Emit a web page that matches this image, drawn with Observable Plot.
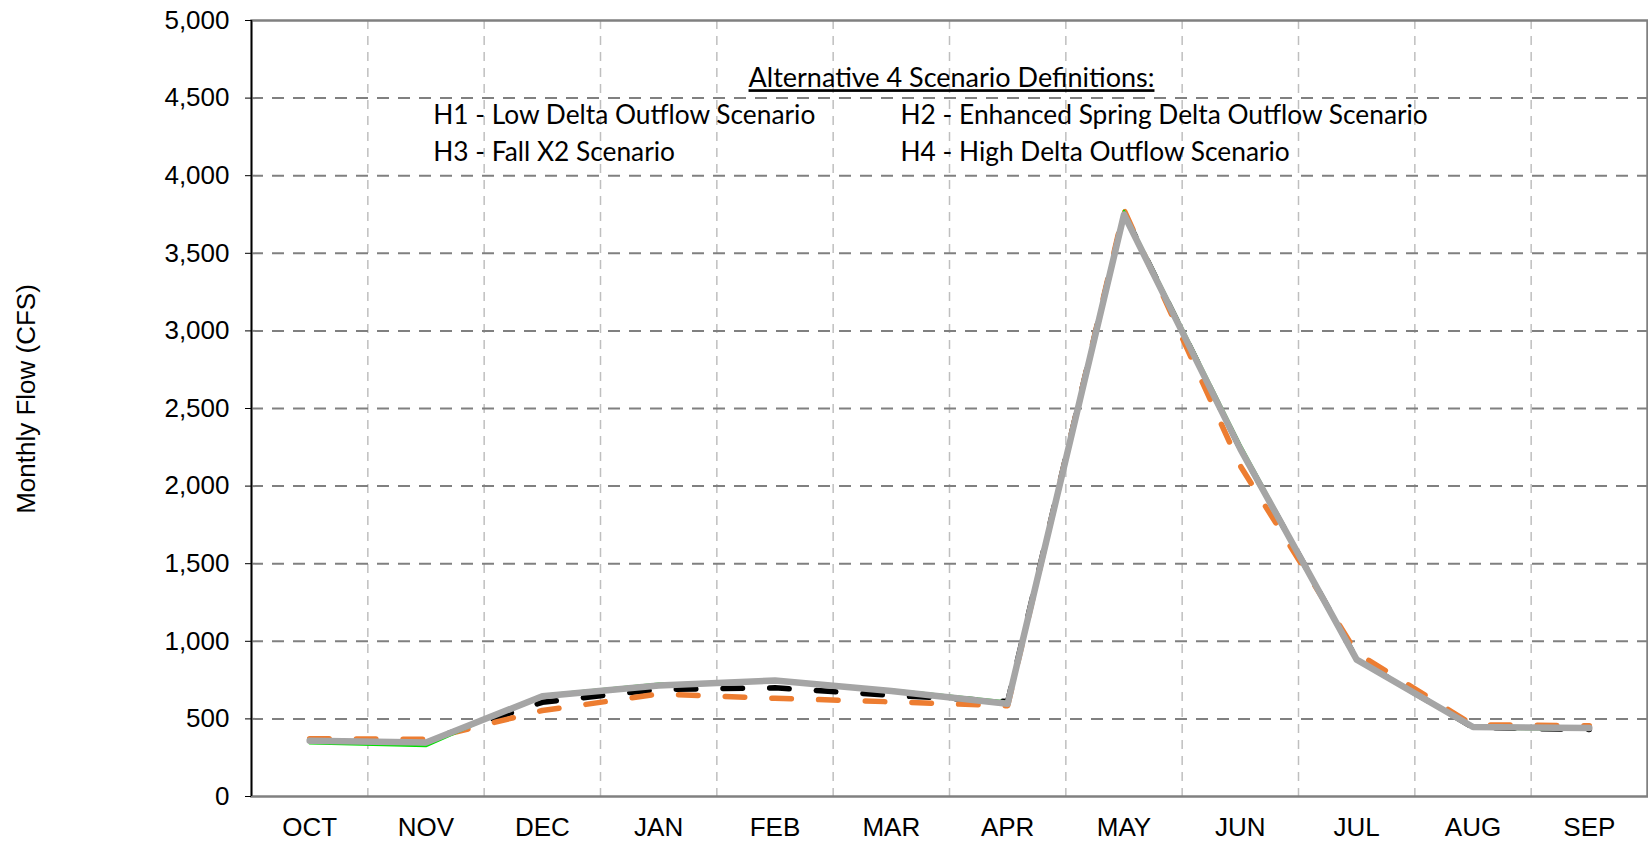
<!DOCTYPE html>
<html>
<head>
<meta charset="utf-8">
<script src="https://cdn.jsdelivr.net/npm/d3@7"></script>
<script src="https://cdn.jsdelivr.net/npm/@observablehq/plot@0.6"></script>
<style>
  html, body { margin: 0; padding: 0; background: #fff; }
  #chart { width: 1648px; height: 843px; overflow: hidden; }
</style>
</head>
<body>
<div id="chart"></div>
<script>
// ---------- data ----------
const months = ["OCT","NOV","DEC","JAN","FEB","MAR","APR","MAY","JUN","JUL","AUG","SEP"];
const seriesNames = ["Black dashed", "Orange dashed", "Green", "Gray"];
const seriesBlack  = [365, 358, 607, 690, 700, 652, 612, 3760, 2240, 885, 445, 432];
const seriesOrange = [372, 368, 554, 660, 633, 610, 585, 3780, 2130, 925, 462, 456];
const seriesGreen  = [342, 324, 655, 728, 738, 690, 612, 3775, 2270, 880, 438, 428];
const seriesGray   = [360, 348, 646, 715, 748, 680, 597, 3750, 2240, 882, 448, 441];
const yTicks = [0, 500, 1000, 1500, 2000, 2500, 3000, 3500, 4000, 4500, 5000];
const yLabel = "Monthly Flow (CFS)";
const legendTitle = "Alternative 4 Scenario Definitions:";
const legendItems = [
  "H1 - Low Delta Outflow Scenario",
  "H2 - Enhanced Spring Delta Outflow Scenario",
  "H3 - Fall X2 Scenario",
  "H4 - High Delta Outflow Scenario"
];

// ---------- build table ----------
const allSeries = [seriesBlack, seriesOrange, seriesGreen, seriesGray];
const rows = [];
allSeries.forEach((vals, s) => {
  vals.forEach((v, i) => rows.push({series: seriesNames[s], month: months[i], x: i + 0.5, value: v}));
});
const bySeries = name => rows.filter(r => r.series === name);

// ---------- layout ----------
const W = 1648, H = 843;
const mL = 251, mR = 1, mT = 20, mB = 47;
const legendFont = "Lato, 'Open Sans', sans-serif";
const legendTitleSize = 27;
const legendSize = 26.3;
const colX = [432.7, 900];
const rowBase = [123.3, 160];

const legendMarks = legendItems.map((t, i) =>
  Plot.text([t], {
    frameAnchor: "top-left",
    dx: colX[i % 2] - mL,
    dy: rowBase[Math.floor(i / 2)] - mT,
    textAnchor: "start", lineAnchor: "bottom",
    fontSize: legendSize, fontFamily: legendFont
  })
);

const plot = Plot.plot({
  width: W, height: H,
  marginLeft: mL, marginRight: mR, marginTop: mT, marginBottom: mB,
  style: {fontFamily: "'Liberation Sans', Arial, sans-serif", fontSize: "26px", color: "#000", background: "#fff"},
  x: {type: "linear", domain: [0, months.length]},
  y: {domain: [0, 5000]},
  marks: [
    // vertical grid at month boundaries
    Plot.ruleX(d3.range(1, months.length), {stroke: "#BFBFBF", strokeWidth: 1.5, strokeDasharray: "9,7"}),
    // horizontal grid
    Plot.ruleY(yTicks.filter(v => v > 0 && v < 5000), {stroke: "#808080", strokeWidth: 2, strokeDasharray: "12,9"}),
    Plot.frame({stroke: "#808080", strokeWidth: 2.5}),
    // series
    Plot.line(bySeries(seriesNames[0]), {x: "x", y: "value", stroke: "#000000", strokeWidth: 5.5,
      strokeDasharray: "19.5,27.2", strokeLinecap: "round", strokeLinejoin: "round"}),
    Plot.line(bySeries(seriesNames[1]), {x: "x", y: "value", stroke: "#ED7D31", strokeWidth: 5.5,
      strokeDasharray: "19.5,27.2", strokeLinecap: "round", strokeLinejoin: "round"}),
    Plot.line(bySeries(seriesNames[2]), {x: "x", y: "value", stroke: "#00E000", strokeWidth: 2,
      strokeLinejoin: "round"}),
    Plot.line(bySeries(seriesNames[3]), {x: "x", y: "value", stroke: "#A5A5A5", strokeWidth: 6.5,
      strokeLinecap: "round", strokeLinejoin: "round"}),
    // left axis line
    Plot.ruleX([0], {stroke: "#000", strokeWidth: 1.5}),
    Plot.axisY({ticks: yTicks, tickSize: 6, tickPadding: 16, tickFormat: d3.format(","), fontSize: 26, label: null}),
    Plot.axisX({ticks: months.map((m, i) => i + 0.5), tickFormat: d => months[Math.floor(d)],
      tickSize: 0, tickPadding: 21, fontSize: 26, label: null}),
    // y title
    Plot.text([yLabel], {frameAnchor: "left", dx: 26.5 - mL, dy: -9.5, rotate: -90, fontSize: 26,
      textAnchor: "middle", lineAnchor: "middle"}),
    // legend block
    Plot.text([legendTitle], {frameAnchor: "top-left", dx: 951 - mL, dy: 86.7 - mT, textAnchor: "middle",
      lineAnchor: "bottom", fontSize: legendTitleSize, fontFamily: legendFont}),
    ...legendMarks
  ]
});

d3.select(plot).selectAll("text")
  .filter(function() { return this.textContent === legendTitle; })
  .attr("text-decoration", "underline");

document.getElementById("chart").appendChild(plot);
</script>
</body>
</html>
